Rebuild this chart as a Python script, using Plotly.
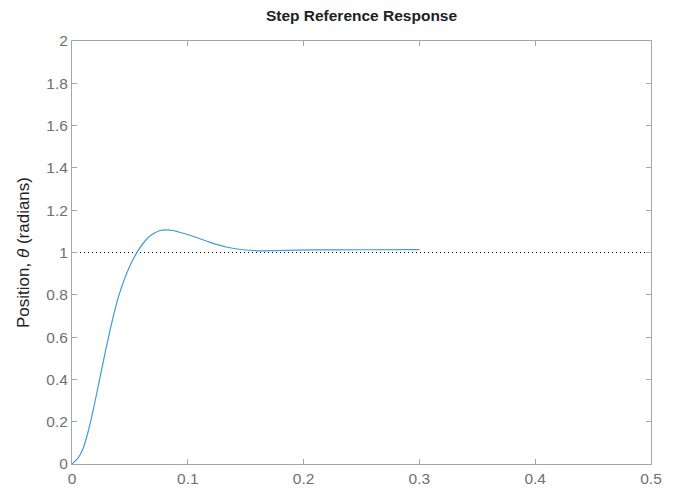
import plotly.graph_objects as go

# Step response data
t = [0.0, 0.0052, 0.0095, 0.0138, 0.0181, 0.0224, 0.0267, 0.031, 0.0353, 0.0397,
     0.0454, 0.0512, 0.0569, 0.0627, 0.0684, 0.0756, 0.0814, 0.0870, 0.0914, 0.097,
     0.1043, 0.1187, 0.133, 0.1474, 0.1618, 0.176, 0.205, 0.248, 0.3]
theta = [0.0, 0.028, 0.072, 0.150, 0.250, 0.362, 0.476, 0.587, 0.690, 0.783,
         0.876, 0.950, 1.008, 1.052, 1.083, 1.103, 1.107, 1.104, 1.098, 1.090,
         1.077, 1.049, 1.026, 1.013, 1.008, 1.009, 1.012, 1.013, 1.014]

ref_t = [0.0, 0.5]
ref_val = [1.0, 1.0]

x_ticks = [0, 0.1, 0.2, 0.3, 0.4, 0.5]
x_labels = ["0", "0.1", "0.2", "0.3", "0.4", "0.5"]
y_ticks = [0, 0.2, 0.4, 0.6, 0.8, 1.0, 1.2, 1.4, 1.6, 1.8, 2.0]
y_labels = ["0", "0.2", "0.4", "0.6", "0.8", "1", "1.2", "1.4", "1.6", "1.8", "2"]

# page body has an 8px margin; compensate so the plot area lands at the reference spot
W, H = 673, 485

fig = go.Figure()
fig.add_trace(go.Scatter(x=ref_t, y=ref_val, mode="lines",
                         line=dict(color="black", width=1, dash="1px,3px"),
                         hoverinfo="skip", showlegend=False))
fig.add_trace(go.Scatter(x=t, y=theta, mode="lines", line_shape="spline",
                         line=dict(color="#3f9bdb", width=1.2, smoothing=0.8), showlegend=False))

axis_common = dict(showline=True, linecolor="#a6a6a6", linewidth=1, mirror="ticks",
                   ticks="inside", ticklen=5, tickcolor="#a6a6a6", showgrid=False,
                   zeroline=False, automargin=False,
                   tickfont=dict(family="Liberation Sans, Arial", size=15.5, color="#707070"))

fig.update_layout(
    width=W, height=H,
    margin=dict(l=64, r=30, t=33, b=29),
    paper_bgcolor="white", plot_bgcolor="white",
    title=dict(text="<b>Step Reference Response</b>", x=(64 + W - 30) / 2 / W, xanchor="center",
               y=1 - 2 / H, yanchor="top",
               font=dict(family="Liberation Sans, Arial", size=15.5, color="#222222")),
    xaxis=dict(range=[0, 0.5], tickvals=x_ticks, ticktext=x_labels, **axis_common),
    yaxis=dict(range=[0, 2], tickvals=y_ticks, ticktext=y_labels,
               title=dict(text="Position, <i>θ</i> (radians)", standoff=12,
                          font=dict(family="Liberation Sans, Arial", size=17, color="#222222")),
               **axis_common),
)

fig.write_html("out.html")
